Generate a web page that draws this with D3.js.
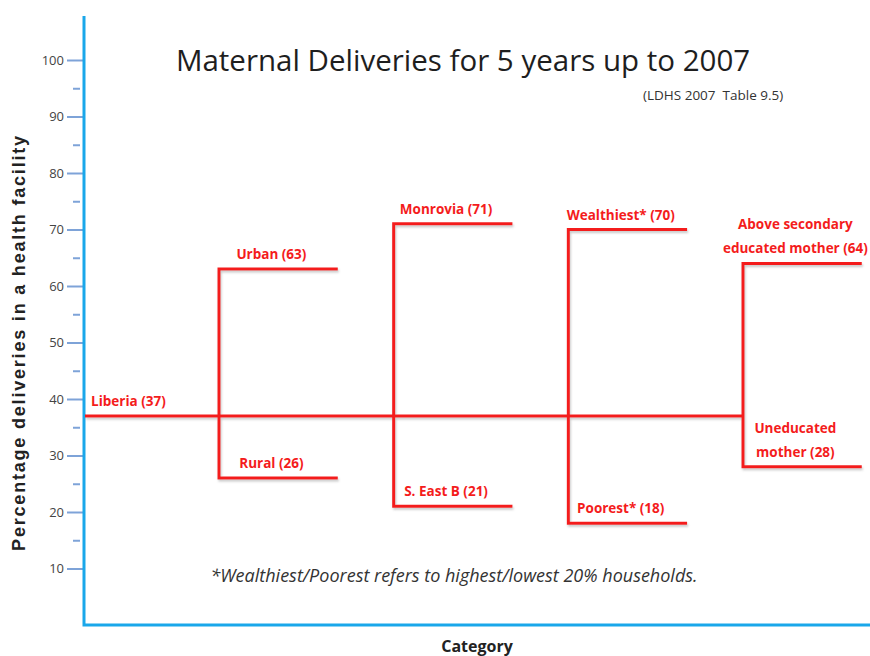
<!DOCTYPE html>
<html>
<head>
<meta charset="utf-8">
<script src="https://cdn.jsdelivr.net/npm/d3@7"></script>
<style>
  body { margin: 0; background: #fff; }
  svg { display: block; }
</style>
</head>
<body>
<div id="chart"></div>
<script>
// values
const groups = ["Residence", "Region", "Wealth", "Education"];
const highNames = [["Urban"], ["Monrovia"], ["Wealthiest*"], ["Above secondary", "educated mother"]];
const highValues = [63, 71, 70, 64];
const lowNames = [["Rural"], ["S. East B"], ["Poorest*"], ["Uneducated", "mother"]];
const lowValues = [26, 21, 18, 28];
const nationalName = "Liberia";
const nationalValue = 37;
const majorTicks = [10, 20, 30, 40, 50, 60, 70, 80, 90, 100];
const minorTicks = [15, 25, 35, 45, 55, 65, 75, 85, 95];

const width = 870;
const height = 656;
const axisX = 84;
const axisBottom = 625;
const axisTop = 16;
const red = "#f41c1c";
const labelFont = "'Open Sans', sans-serif";

const svg = d3.select("#chart")
    .append("svg")
        .attr("width", width)
        .attr("height", height);

const defs = svg.append("defs");
const shadow = defs.append("filter")
    .attr("id", "shadow")
    .attr("x", "-5%").attr("y", "-50%")
    .attr("width", "110%").attr("height", "200%");
shadow.append("feDropShadow")
    .attr("dx", 1).attr("dy", 2)
    .attr("stdDeviation", 1)
    .attr("flood-color", "#888")
    .attr("flood-opacity", 0.45);

const y = d3.scaleLinear()
    .domain([0, 100])
    .range([axisBottom, 60]);

const x = d3.scalePoint()
    .domain(groups)
    .range([219, 743]);

const arm = x.step() * 0.68;

// title and notes
svg.append("text")
    .attr("x", 463)
    .attr("y", 71)
    .attr("text-anchor", "middle")
    .attr("font-family", "'Open Sans', sans-serif")
    .attr("font-size", 29.5)
    .attr("fill", "#1e1e1e")
    .text("Maternal Deliveries for 5 years up to 2007");

svg.append("text")
    .attr("x", 643)
    .attr("y", 100)
    .attr("font-family", labelFont)
    .attr("font-size", 13.5)
    .attr("fill", "#333")
    .attr("xml:space", "preserve")
    .text("(LDHS 2007  Table 9.5)");

svg.append("text")
    .attr("x", 454)
    .attr("y", 582)
    .attr("text-anchor", "middle")
    .attr("font-family", "'Open Sans', sans-serif")
    .attr("font-style", "italic")
    .attr("font-size", 18)
    .attr("fill", "#333")
    .text("*Wealthiest/Poorest refers to highest/lowest 20% households.");

svg.append("text")
    .attr("transform", `translate(25, ${ (130 + 555) / 2 }) rotate(-90)`)
    .attr("text-anchor", "middle")
    .attr("font-family", "'Liberation Sans', Arial, sans-serif")
    .attr("font-weight", "bold")
    .attr("font-size", 18)
    .attr("letter-spacing", 1.8)
    .attr("fill", "#222")
    .text("Percentage deliveries in a health facility");

svg.append("text")
    .attr("x", 477)
    .attr("y", 652)
    .attr("text-anchor", "middle")
    .attr("font-family", "'Open Sans', sans-serif")
    .attr("font-weight", "bold")
    .attr("font-size", 16)
    .attr("fill", "#222")
    .text("Category");

// y axis ticks
const majorAxis = svg.append("g")
    .attr("transform", `translate(${ axisX }, 0)`)
    .call(d3.axisLeft(y).tickValues(majorTicks).tickSize(17).tickPadding(3));
majorAxis.select(".domain").remove();
majorAxis.selectAll("line")
    .attr("stroke", "#7ea3d8")
    .attr("stroke-width", 2);
majorAxis.selectAll("text")
    .attr("font-family", labelFont)
    .attr("font-size", 13)
    .attr("fill", "#444");

const minorAxis = svg.append("g")
    .attr("transform", `translate(${ axisX - 4 }, 0)`)
    .call(d3.axisLeft(y).tickValues(minorTicks).tickSize(7).tickFormat(""));
minorAxis.select(".domain").remove();
minorAxis.selectAll("line")
    .attr("stroke", "#7ea3d8")
    .attr("stroke-width", 2);

// axis lines
svg.append("path")
    .attr("d", `M${ axisX },${ axisTop }V${ axisBottom }H${ width }`)
    .attr("fill", "none")
    .attr("stroke", "#1aa7ea")
    .attr("stroke-width", 3);

// red step lines
const lines = svg.append("g")
    .attr("fill", "none")
    .attr("stroke", red)
    .attr("stroke-width", 3)
    .attr("filter", "url(#shadow)");

const line = d3.line();

lines.append("path")
    .attr("d", line([[axisX + 1, y(nationalValue)], [x(groups[groups.length - 1]), y(nationalValue)]]));

groups.forEach((group, i) => {
    let gx = x(group);
    lines.append("path")
        .attr("d", line([
            [gx + arm, y(highValues[i])],
            [gx, y(highValues[i])],
            [gx, y(lowValues[i])],
            [gx + arm, y(lowValues[i])]
        ]));
});

// labels
const labels = svg.append("g")
    .attr("font-family", labelFont)
    .attr("font-weight", "bold")
    .attr("font-size", 13.5)
    .attr("fill", red);

function addLabel(names, value, cx, anchor) {
    let rows = names.slice();
    rows[rows.length - 1] += " (" + value + ")";
    rows.forEach((row, r) => {
        labels.append("text")
            .attr("x", cx)
            .attr("y", y(value) - 10 - (rows.length - 1 - r) * 24)
            .attr("text-anchor", anchor)
            .text(row);
    });
}

addLabel([nationalName], nationalValue, axisX + 7, "start");
groups.forEach((group, i) => {
    let cx = x(group) + arm / 2 - 7;
    addLabel(highNames[i], highValues[i], cx, "middle");
    addLabel(lowNames[i], lowValues[i], cx, "middle");
});
</script>
</body>
</html>
